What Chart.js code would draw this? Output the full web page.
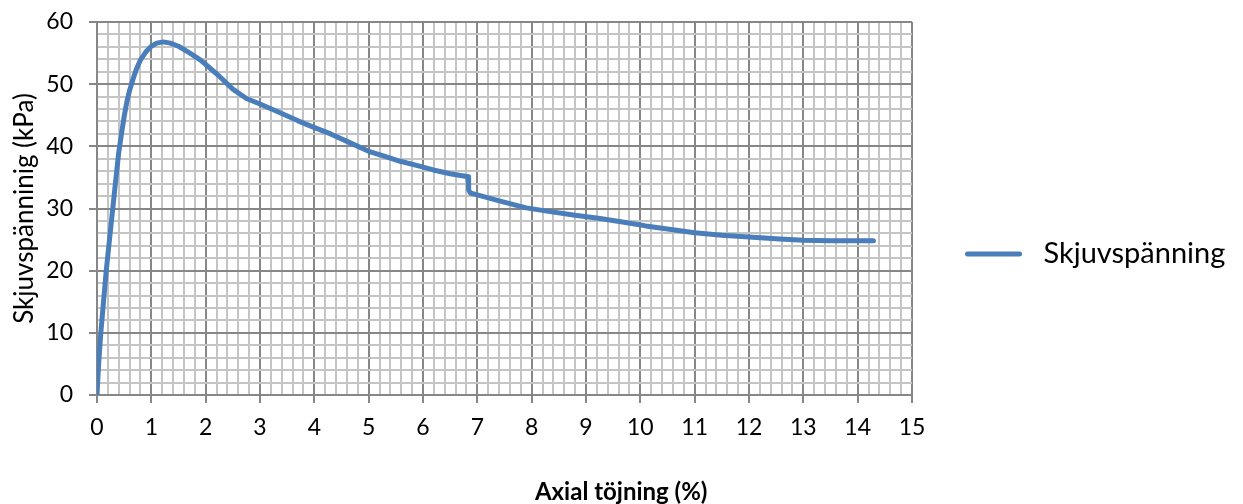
<!DOCTYPE html>
<html>
<head>
<meta charset="utf-8">
<script src="https://cdn.jsdelivr.net/npm/chart.js@4.4.1/dist/chart.umd.min.js"></script>
<style>
  html, body { margin: 0; padding: 0; background: #ffffff; }
  #wrap { width: 1243px; height: 504px; position: relative; }
</style>
</head>
<body>
<div id="wrap"><canvas id="chart"></canvas></div>
<script>
// Shear test: shear stress against axial strain
const seriesName = 'Skjuvspänning';
const xAxisTitle = 'Axial töjning (%)';
const yAxisTitle = 'Skjuvspänninig (kPa)';

const strainPct = [
  0, 0.03, 0.07, 0.12, 0.17, 0.23, 0.29, 0.35, 0.40, 0.45,
  0.50, 0.55, 0.60, 0.67, 0.72, 0.80, 0.90, 1.00, 1.10, 1.22,
  1.35, 1.50, 1.71, 1.90, 2.05, 2.26, 2.50, 2.75, 3.00, 3.37,
  3.70, 3.98, 4.30, 4.60, 5.00, 5.30, 5.58, 5.90, 6.19, 6.50,
  6.83, 6.84, 6.87, 7.00, 7.42, 7.90, 8.34, 8.80, 9.26, 9.70,
  10.10, 10.50, 11.00, 11.50, 12.00, 12.57, 13.00, 13.50, 14.00, 14.29
];
const shearKPa = [
  0, 5, 10, 15, 20, 25, 30, 35, 39, 42,
  44.8, 47.2, 49, 51, 52.3, 53.9, 55.2, 56.1, 56.6, 56.8,
  56.6, 56.1, 55, 53.9, 52.8, 51.2, 49.2, 47.7, 46.8, 45.4,
  44.1, 43.1, 42, 40.8, 39.2, 38.4, 37.6, 36.9, 36.2, 35.6,
  35.1, 33, 32.5, 32.2, 31.2, 30.1, 29.5, 28.9, 28.4, 27.8,
  27.2, 26.7, 26.1, 25.7, 25.4, 25.1, 24.9, 24.8, 24.8, 24.8
];

// Labelled (major) ticks; minor grid steps lie between them
const xTickLabels = [0, 1, 2, 3, 4, 5, 6, 7, 8, 9, 10, 11, 12, 13, 14, 15];
const yTickLabels = [0, 10, 20, 30, 40, 50, 60];
const xMinorStep = 0.2;
const yMinorStep = 2;

const lineColor = '#4a7ebb';
const majorGrid = '#878787';
const minorGrid = '#c4c4c4';

Chart.defaults.font.family = 'Lato, "Open Sans", sans-serif';
Chart.defaults.color = '#000000';

const isMajor = (v, list) => list.some(m => Math.abs(m - v) < 1e-6);

// Legend swatch: a short thick line, with room after it before the text
const swatchBox = 64;
const legendSwatch = document.createElement('canvas');
legendSwatch.width = swatchBox;
legendSwatch.height = 8;
(function () {
  const g = legendSwatch.getContext('2d');
  g.strokeStyle = lineColor;
  g.lineWidth = 5;
  g.lineCap = 'round';
  g.beginPath();
  g.moveTo(2.5, 4);
  g.lineTo(54.5, 4);
  g.stroke();
})();

const legendFontSize = 29;
const legendPad = 53;
const plotLeft = 97;
const plotRight = 912;
const leftPad = 7;
const measure = document.createElement('canvas').getContext('2d');
measure.font = legendFontSize + 'px Lato';
const legendTextW = measure.measureText(seriesName).width;
// legend box = padding + swatch + half font gap + text + 10 px extra that Chart.js adds
const rightPad = Math.max(0, 1243 - plotRight - (legendPad + swatchBox + legendFontSize / 2 + legendTextW + 10));

const gridColor = (list) => (c) => (c.tick && isMajor(c.tick.value, list)) ? majorGrid : minorGrid;
const tickColor = (list) => (c) => (c.tick && isMajor(c.tick.value, list)) ? majorGrid : 'rgba(0,0,0,0)';

new Chart(document.getElementById('chart'), {
  type: 'line',
  data: {
    datasets: [{
      label: seriesName,
      data: strainPct.map((x, i) => ({ x: x, y: shearKPa[i] })),
      borderColor: lineColor,
      backgroundColor: lineColor,
      borderWidth: 5,
      pointRadius: 0,
      tension: 0,
      borderJoinStyle: 'round',
      borderCapStyle: 'round',
      fill: false
    }]
  },
  options: {
    responsive: true,
    maintainAspectRatio: false,
    animation: false,
    layout: { padding: { top: 4, right: rightPad, bottom: 0, left: leftPad } },
    plugins: {
      legend: {
        position: 'right',
        align: 'center',
        maxWidth: 600,
        labels: {
          usePointStyle: true,
          pointStyleWidth: swatchBox,
          padding: legendPad,
          font: { size: legendFontSize },
          color: '#000000',
          generateLabels: (chart) => chart.data.datasets.map((ds, i) => ({
            text: ds.label,
            pointStyle: legendSwatch,
            fillStyle: ds.borderColor,
            strokeStyle: ds.borderColor,
            lineWidth: 0,
            hidden: false,
            datasetIndex: i
          }))
        }
      },
      title: {
        display: true,
        position: 'bottom',
        align: 'center',
        text: xAxisTitle,
        color: '#000000',
        font: { size: 24, weight: 'bold', lineHeight: 1 },
        padding: { top: 0, bottom: 0 }
      },
      tooltip: { enabled: false }
    },
    scales: {
      x: {
        type: 'linear',
        position: 'bottom',
        min: 0,
        max: 15,
        ticks: {
          stepSize: xMinorStep,
          maxTicksLimit: 200,
          autoSkip: false,
          maxRotation: 0,
          padding: 11,
          font: { size: 23 },
          color: '#000000',
          callback: (v) => isMajor(v, xTickLabels) ? String(Math.round(v)) : ''
        },
        grid: {
          color: gridColor(xTickLabels),
          lineWidth: 2,
          tickLength: 8,
          tickColor: tickColor(xTickLabels),
          drawTicks: true
        },
        border: { display: true, color: majorGrid, width: 2 },
        afterFit: (s) => { s.height = 109 - 24; }
      },
      xTop: {
        type: 'linear',
        position: 'top',
        display: true,
        ticks: { display: false },
        grid: { display: false, drawTicks: false },
        border: { display: false },
        afterFit: (s) => { s.height = 18; }
      },
      y: {
        type: 'linear',
        position: 'left',
        min: 0,
        max: 60,
        ticks: {
          stepSize: yMinorStep,
          maxTicksLimit: 200,
          autoSkip: false,
          padding: 16,
          font: { size: 23, lineHeight: 0.5 },
          color: '#000000',
          callback: (v) => isMajor(v, yTickLabels) ? String(Math.round(v)) : ''
        },
        grid: {
          color: gridColor(yTickLabels),
          lineWidth: 2,
          tickLength: 8,
          tickColor: tickColor(yTickLabels),
          drawTicks: true
        },
        border: { display: true, color: majorGrid, width: 2 },
        title: {
          display: true,
          text: yAxisTitle,
          color: '#000000',
          font: { size: 26, lineHeight: 0.5 },
          padding: { top: 11, bottom: 0 }
        },
        afterFit: (s) => { s.width = plotLeft - leftPad; }
      }
    }
  }
});
</script>
</body>
</html>
